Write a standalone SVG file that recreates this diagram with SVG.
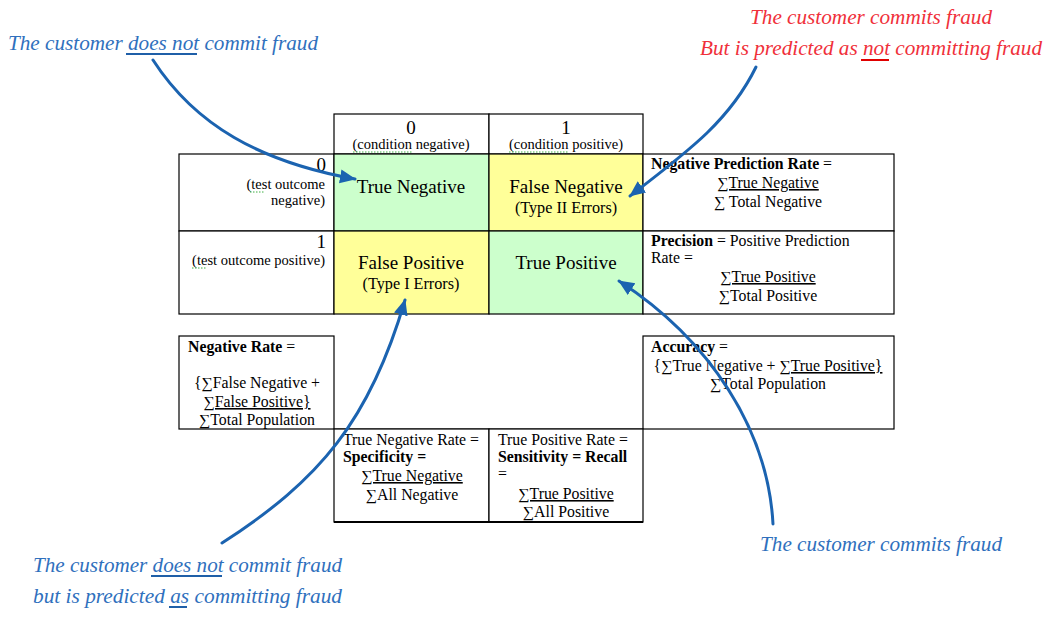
<svg xmlns="http://www.w3.org/2000/svg" width="1055" height="637" viewBox="0 0 1055 637">
<defs>
<marker id="ah" markerUnits="userSpaceOnUse" markerWidth="18" markerHeight="16" refX="15" refY="7" orient="auto">
<path d="M0,0 L16,7 L0,14 Z" fill="#1B63B0"/>
</marker>
<style>
.cell{stroke:#000;stroke-width:1.2;}
.t{font-family:"Liberation Serif","Times New Roman",serif;fill:#000;}
.big{font-size:19px;}
.mid{font-size:15.8px;}
.sm{font-size:14.5px;}
.ty{font-size:16.2px;}
.b{font-weight:bold;}
.c{text-anchor:middle;}
.r{text-anchor:end;}
.u{text-decoration:underline;}
.ann{font-family:"Liberation Serif","Times New Roman",serif;font-style:italic;font-size:22px;}
.blue{fill:#2F70BD;}
.red{fill:#F0303A;}
.ub{stroke:#1F5FA8;stroke-width:2;}
.ur{stroke:#E00000;stroke-width:2;}
.arrow{fill:none;stroke:#1B63B0;stroke-width:3;stroke-linecap:round;}
.sq{stroke:#3CB043;stroke-width:1;stroke-dasharray:1.5 1.5;}
</style>
</defs>
<rect width="1055" height="637" fill="#fff"/>

<g id="header-0">
<rect class="cell" x="334" y="114" width="155" height="40" fill="#fff"/>
<text class="t big c" x="411" y="134">0</text>
<text class="t sm c" x="411" y="149">(condition negative)</text>
<line class="sq" x1="353" y1="152" x2="413" y2="152"/>
</g>
<g id="header-1">
<rect class="cell" x="489" y="114" width="154" height="40" fill="#fff"/>
<text class="t big c" x="566" y="134">1</text>
<text class="t sm c" x="566" y="149">(condition positive)</text>
<line class="sq" x1="509" y1="152" x2="569" y2="152"/>
</g>

<g id="row-0-label">
<rect class="cell" x="179" y="154" width="155" height="77" fill="#fff"/>
<text class="t big r" x="326" y="171">0</text>
<text class="t sm r" x="325" y="189">(test outcome</text>
<text class="t sm r" x="325" y="205">negative)</text>
<line class="sq" x1="250" y1="192" x2="265" y2="192"/>
</g>
<g id="true-negative">
<rect class="cell" x="334" y="154" width="155" height="77" fill="#CCFFCC"/>
<text class="t big c" x="411" y="193">True Negative</text>
</g>
<g id="false-negative">
<rect class="cell" x="489" y="154" width="154" height="77" fill="#FFFF99"/>
<text class="t big c" x="566" y="193">False Negative</text>
<text class="t ty c" x="566" y="213">(Type II Errors)</text>
</g>
<g id="negative-prediction-rate">
<rect class="cell" x="643" y="154" width="251" height="77" fill="#fff"/>
<text class="t mid" x="651" y="169"><tspan class="b">Negative Prediction Rate</tspan> =</text>
<text class="t mid c u" x="768" y="188">∑True Negative</text>
<text class="t mid c" x="768" y="207">∑ Total Negative</text>
</g>

<g id="row-1-label">
<rect class="cell" x="179" y="231" width="155" height="83" fill="#fff"/>
<text class="t big r" x="326" y="248">1</text>
<text class="t sm r" x="325" y="265">(test outcome positive)</text>
<line class="sq" x1="192" y1="268" x2="207" y2="268"/>
</g>
<g id="false-positive">
<rect class="cell" x="334" y="231" width="155" height="83" fill="#FFFF99"/>
<text class="t big c" x="411" y="269">False Positive</text>
<text class="t ty c" x="411" y="289">(Type I Errors)</text>
</g>
<g id="true-positive">
<rect class="cell" x="489" y="231" width="154" height="83" fill="#CCFFCC"/>
<text class="t big c" x="566" y="269">True Positive</text>
</g>
<g id="precision">
<rect class="cell" x="643" y="231" width="251" height="83" fill="#fff"/>
<text class="t mid" x="651" y="246"><tspan class="b">Precision</tspan> = Positive Prediction</text>
<text class="t mid" x="651" y="263">Rate =</text>
<text class="t mid c u" x="768" y="282">∑True Positive</text>
<text class="t mid c" x="768" y="301">∑Total Positive</text>
</g>

<g id="negative-rate">
<rect class="cell" x="179" y="336" width="155" height="93" fill="#fff"/>
<text class="t mid" x="188" y="352"><tspan class="b">Negative Rate</tspan> =</text>
<text class="t mid c" x="257" y="388">{∑False Negative +</text>
<text class="t mid c u" x="257" y="407">∑False Positive}</text>
<text class="t mid c" x="257" y="425">∑Total Population</text>
</g>
<g id="accuracy">
<rect class="cell" x="643" y="336" width="251" height="93" fill="#fff"/>
<text class="t mid" x="651" y="352"><tspan class="b">Accuracy</tspan> =</text>
<text class="t mid c" x="768" y="371">{∑True Negative + <tspan class="u">∑True Positive}</tspan></text>
<text class="t mid c" x="768" y="389">∑Total Population</text>
</g>
<line class="cell" x1="334" y1="429" x2="643" y2="429"/>

<g id="specificity">
<rect class="cell" x="334" y="429" width="155" height="93" fill="#fff"/>
<text class="t mid" x="343" y="445">True Negative Rate =</text>
<text class="t mid b" x="343" y="462">Specificity =</text>
<text class="t mid c u" x="412" y="481">∑True Negative</text>
<text class="t mid c" x="412" y="500">∑All Negative</text>
</g>
<g id="sensitivity">
<rect class="cell" x="489" y="429" width="154" height="93" fill="#fff"/>
<text class="t mid" x="498" y="445">True Positive Rate =</text>
<text class="t mid b" x="498" y="462">Sensitivity = Recall</text>
<text class="t mid" x="498" y="479">=</text>
<text class="t mid c u" x="566" y="499">∑True Positive</text>
<text class="t mid c" x="566" y="517">∑All Positive</text>
</g>
<line x1="334" y1="522" x2="643" y2="522" stroke="#000" stroke-width="2"/>

<g id="ann-tn">
<text class="ann blue" x="8" y="50" textLength="310" lengthAdjust="spacingAndGlyphs">The customer does not commit fraud</text>
<line class="ub" x1="126" y1="54" x2="197" y2="54"/>
</g>
<g id="ann-fn">
<text class="ann red" x="750" y="24" textLength="242" lengthAdjust="spacingAndGlyphs">The customer commits fraud</text>
<text class="ann red" x="700" y="55" textLength="342" lengthAdjust="spacingAndGlyphs">But is predicted as not committing fraud</text>
<line class="ur" x1="861" y1="60" x2="889" y2="60"/>
</g>
<g id="ann-fp">
<text class="ann blue" x="33" y="572" textLength="309" lengthAdjust="spacingAndGlyphs">The customer does not commit fraud</text>
<line class="ub" x1="151" y1="576" x2="222" y2="576"/>
<text class="ann blue" x="33" y="603" textLength="309" lengthAdjust="spacingAndGlyphs">but is predicted as committing fraud</text>
<line class="ub" x1="169" y1="607" x2="187" y2="607"/>
</g>
<g id="ann-tp">
<text class="ann blue" x="760" y="551" textLength="242" lengthAdjust="spacingAndGlyphs">The customer commits fraud</text>
</g>

<g id="connectors">
<path class="arrow" marker-end="url(#ah)" d="M153,60 C195,125 260,162 355,179"/>
<path class="arrow" marker-end="url(#ah)" d="M756,67 C730,120 690,150 630,196"/>
<path class="arrow" marker-end="url(#ah)" d="M222,543 C320,480 370,420 405,300"/>
<path class="arrow" marker-end="url(#ah)" d="M773,524 C768,430 710,340 619,281"/>
</g>
</svg>
